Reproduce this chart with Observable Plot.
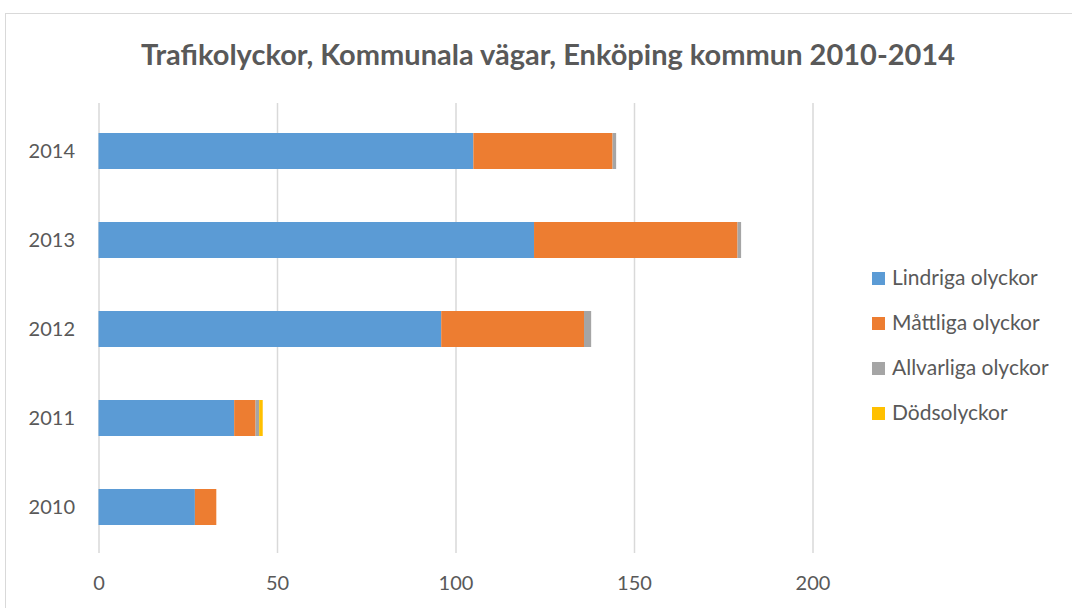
<!DOCTYPE html>
<html><head><meta charset="utf-8">
<script src="https://cdn.jsdelivr.net/npm/d3@7"></script>
<script src="https://cdn.jsdelivr.net/npm/@observablehq/plot@0.6"></script>
<style>
html,body{margin:0;padding:0;background:#fff;overflow:hidden;}
#wrap{position:relative;width:1072px;height:608px;font-family:Lato,"Open Sans",sans-serif;}
#frame{position:absolute;left:5px;top:13px;width:1100px;height:700px;border:1px solid #d9d9d9;box-sizing:border-box;}
#title{position:absolute;left:0;width:1096px;top:36px;text-align:center;font-weight:bold;font-size:29px;color:#595959;}
#legend{position:absolute;left:872px;top:264px;color:#595959;font-size:21px;}
#legend div{height:45px;display:flex;align-items:flex-start;}
#legend span.sw{display:inline-block;width:13px;height:13px;margin-right:7px;margin-top:8px;}
#chart{position:absolute;left:0;top:0;}
</style></head>
<body>
<div id="wrap">
<div id="frame"></div>
<div id="chart"></div>
<div id="title">Trafikolyckor, Kommunala vägar, Enköping kommun 2010-2014</div>
<div id="legend"></div>
</div>
<script>
const years = ["2010","2011","2012","2013","2014"];
const series = ["Lindriga olyckor","Måttliga olyckor","Allvarliga olyckor","Dödsolyckor"];
const colors = ["#5b9bd5","#ed7d31","#a5a5a5","#ffc000"];
const lindriga = [27,38,96,122,105];
const mattliga = [6,6,40,57,39];
const allvarliga = [0,1,2,1,1];
const dods = [0,1,0,0,0];
const xTicks = [0,50,100,150,200];

const vals = [lindriga, mattliga, allvarliga, dods];
const data = [];
series.forEach((s,i)=>years.forEach((y,j)=>data.push({year:y, series:s, value:vals[i][j]})));

const plot = Plot.plot({
  width:1072, height:608,
  marginLeft:98.5, marginRight:259.5, marginTop:105, marginBottom:55,
  style:{fontFamily:"Lato, 'Open Sans', sans-serif", fontSize:"20px", color:"#595959", background:"transparent"},
  x:{domain:[0,200], ticks:xTicks, label:null},
  y:{domain:years.slice().reverse(), paddingInner:0.6, paddingOuter:0.3, label:null},
  color:{domain:series, range:colors},
  marks:[
    Plot.ruleX(xTicks,{stroke:"#d9d9d9", strokeWidth:1.5, insetTop:-2}),
    Plot.barX(data, Plot.stackX({x:"value", y:"year", fill:"series", order:series})),
    Plot.axisX({ticks:xTicks, tickSize:0, tickPadding:22, fontSize:20, fill:"#595959"}),
    Plot.axisY({tickSize:0, tickPadding:24, fontSize:20, fill:"#595959"})
  ]
});
document.getElementById("chart").appendChild(plot);

const lg = document.getElementById("legend");
series.forEach((s,i)=>{
  const d = document.createElement("div");
  d.innerHTML = `<span class="sw" style="background:${colors[i]}"></span><span>${s}</span>`;
  lg.appendChild(d);
});
</script>
</body></html>
